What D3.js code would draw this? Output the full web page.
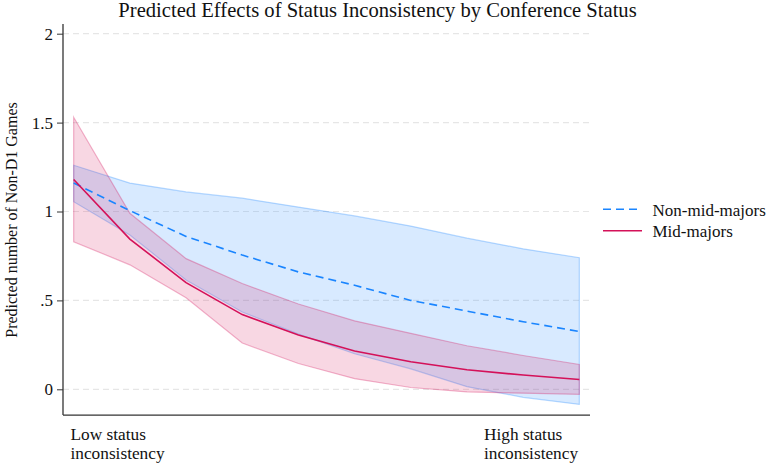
<!DOCTYPE html>
<html>
<head>
<meta charset="utf-8">
<script src="https://cdn.jsdelivr.net/npm/d3@7/dist/d3.min.js"></script>
<style>
  body { margin: 0; background: #fff; }
  svg { display: block; }
  text { font-family: "Liberation Serif", "Times New Roman", serif; fill: #111; }
</style>
</head>
<body>
<svg id="chart" width="770" height="466"></svg>
<script>
// ---- data ----
const xPoints = [0, 1, 2, 3, 4, 5, 6, 7, 8, 9];
const nonMidLine  = [1.16, 1.005, 0.86, 0.755, 0.66, 0.585, 0.50, 0.44, 0.38, 0.325];
const nonMidUpper = [1.26, 1.16, 1.11, 1.075, 1.025, 0.975, 0.918, 0.85, 0.79, 0.74];
const nonMidLower = [1.055, 0.868, 0.615, 0.435, 0.31, 0.20, 0.115, 0.015, -0.045, -0.085];
const midLine  = [1.18, 0.845, 0.60, 0.42, 0.305, 0.215, 0.155, 0.11, 0.08, 0.055];
const midUpper = [1.53, 0.99, 0.735, 0.595, 0.48, 0.385, 0.315, 0.245, 0.19, 0.14];
const midLower = [0.83, 0.70, 0.515, 0.26, 0.145, 0.06, 0.01, -0.015, -0.022, -0.028];
const yTicks = [0, 0.5, 1, 1.5, 2];
const yTickLabels = ["0", ".5", "1", "1.5", "2"];
const xLabelLow = ["Low status", "inconsistency"];
const xLabelHigh = ["High status", "inconsistency"];
const seriesNames = ["Non-mid-majors", "Mid-majors"];
const title = "Predicted Effects of Status Inconsistency by Conference Status";
const yTitle = "Predicted number of Non-D1 Games";

// ---- layout ----
const svg = d3.select("#chart");
const x = d3.scaleLinear().domain([-0.19, 9.19]).range([63, 590]);
const y = d3.scaleLinear().domain([0, 2]).range([389.3, 33.7]);
const yMin = -0.145, yMax = 2.055;

const blue = "#1a85ff", red = "#d41159";

// gridlines
svg.append("g").selectAll("line").data(yTicks).join("line")
  .attr("x1", x(-0.19)).attr("x2", x(9.19) + 1)
  .attr("y1", d => y(d)).attr("y2", d => y(d))
  .attr("stroke", "#e6e6e6").attr("stroke-width", 1.2).attr("stroke-dasharray", "6,4");

// areas
const area = (lo, hi) => d3.area()
  .x((d, i) => x(xPoints[i]))
  .y0((d, i) => y(lo[i]))
  .y1((d, i) => y(hi[i]))(xPoints);

svg.append("path").attr("d", area(nonMidLower, nonMidUpper))
  .attr("fill", blue).attr("fill-opacity", 0.17)
  .attr("stroke", blue).attr("stroke-opacity", 0.3).attr("stroke-width", 1.2);
svg.append("path").attr("d", area(midLower, midUpper))
  .attr("fill", red).attr("fill-opacity", 0.17)
  .attr("stroke", red).attr("stroke-opacity", 0.3).attr("stroke-width", 1.2);

// lines
const line = vals => d3.line().x((d, i) => x(xPoints[i])).y((d, i) => y(vals[i]))(xPoints);
svg.append("path").attr("d", line(nonMidLine)).attr("fill", "none")
  .attr("stroke", blue).attr("stroke-width", 1.6).attr("stroke-dasharray", "8,5");
svg.append("path").attr("d", line(midLine)).attr("fill", "none")
  .attr("stroke", red).attr("stroke-width", 1.6);

// y axis
const yAxis = d3.axisLeft(y).tickValues(yTicks)
  .tickFormat((d, i) => yTickLabels[i]).tickSize(6).tickPadding(4);
const gy = svg.append("g").attr("transform", "translate(63,0)").call(yAxis);
gy.select(".domain").remove();
gy.selectAll(".tick line").attr("stroke", "#333");
gy.selectAll(".tick text").style("font-family", "Liberation Serif, Times New Roman, serif")
  .style("font-size", "17px").attr("fill", "#111");
svg.append("line").attr("x1", 63).attr("x2", 63).attr("y1", y(yMax)).attr("y2", y(yMin))
  .attr("stroke", "#333").attr("stroke-width", 1.3);
// x axis line
svg.append("line").attr("x1", 63).attr("x2", 590).attr("y1", y(yMin)).attr("y2", y(yMin))
  .attr("stroke", "#333").attr("stroke-width", 1.3);

// x labels
const addLabel = (lines, xpos) => {
  const t = svg.append("text").attr("x", xpos).attr("y", 439.5).style("font-size", "17.3px");
  lines.forEach((s, i) => t.append("tspan").attr("x", xpos).attr("dy", i === 0 ? 0 : 19.3).text(s));
};
addLabel(xLabelLow, 70.5);
addLabel(xLabelHigh, 484);

// title
svg.append("text").attr("x", 377.5).attr("y", 17).attr("text-anchor", "middle")
  .style("font-size", "20.6px").text(title);

// y title
svg.append("text").attr("transform", "translate(17,220) rotate(-90)")
  .attr("text-anchor", "middle").style("font-size", "16px").text(yTitle);

// legend
const leg = svg.append("g");
leg.append("line").attr("x1", 603).attr("x2", 642).attr("y1", 209.3).attr("y2", 209.3)
  .attr("stroke", blue).attr("stroke-width", 1.6).attr("stroke-dasharray", "8,5");
leg.append("line").attr("x1", 603).attr("x2", 642).attr("y1", 230.7).attr("y2", 230.7)
  .attr("stroke", red).attr("stroke-width", 1.6);
leg.append("text").attr("x", 652.5).attr("y", 215.8).style("font-size", "17px").text(seriesNames[0]);
leg.append("text").attr("x", 652.5).attr("y", 237.3).style("font-size", "17px").text(seriesNames[1]);
</script>
</body>
</html>
